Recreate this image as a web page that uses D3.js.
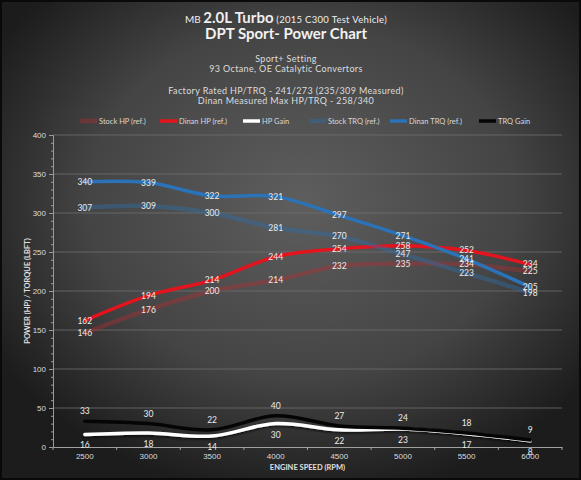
<!DOCTYPE html>
<html>
<head>
<meta charset="utf-8">
<script src="https://cdn.jsdelivr.net/npm/d3@7"></script>
<style>
    body { margin: 0; background: #000; }
    svg { display: block; font-family: Lato, "Open Sans", sans-serif; }
    .tick text { fill: #dcdcdc; font-size: 8px; }
    .dlabel { fill: #ececec; font-size: 8.5px; text-anchor: middle; }
</style>
</head>
<body>
<svg></svg>
<script>
var rpm = ["2500", "3000", "3500", "4000", "4500", "5000", "5500", "6000"]
var stockHP = [146, 176, 200, 214, 232, 235, 234, 225]
var dinanHP = [162, 194, 214, 244, 254, 258, 252, 234]
var hpGain = [16, 18, 14, 30, 22, 23, 17, 8]
var stockTRQ = [307, 309, 300, 281, 270, 247, 223, 198]
var dinanTRQ = [340, 339, 322, 321, 297, 271, 241, 205]
var trqGain = [33, 30, 22, 40, 27, 24, 18, 9]
var yTicks = [0, 50, 100, 150, 200, 250, 300, 350, 400]

var series = [
    { name: "Stock HP (ref.)", values: stockHP, color: "rgba(185,45,50,0.38)", width: 4.5, label: 0 },
    { name: "Dinan HP (ref.)", values: dinanHP, color: "#e2141d", width: 3.5, label: 0 },
    { name: "HP Gain", values: hpGain, color: "#ffffff", width: 3.5, label: 11 },
    { name: "Stock TRQ (ref.)", values: stockTRQ, color: "rgba(45,110,170,0.42)", width: 4.5, label: 0 },
    { name: "Dinan TRQ (ref.)", values: dinanTRQ, color: "#2b73b9", width: 3.5, label: 0 },
    { name: "TRQ Gain", values: trqGain, color: "#050505", width: 3.5, label: -10 }
]

var screen = { width: 581, height: 480 }
var margins = { left: 53, right: 19, top: 135, bottom: 33 }
var graph = {
    width: screen.width - margins.left - margins.right,
    height: screen.height - margins.top - margins.bottom
}

var svg = d3.select("svg")
    .attr("width", screen.width)
    .attr("height", screen.height)

//background
var defs = svg.append("defs")
var grad = defs.append("radialGradient")
    .attr("id", "bg")
    .attr("cx", "52%").attr("cy", "42%").attr("r", "62%")
grad.append("stop").attr("offset", "0%").attr("stop-color", "#5e5e5e")
grad.append("stop").attr("offset", "60%").attr("stop-color", "#444444")
grad.append("stop").attr("offset", "100%").attr("stop-color", "#1c1c1c")

var shadow = defs.append("filter").attr("id", "shadow")
    .attr("x", "-10%").attr("y", "-50%").attr("width", "120%").attr("height", "200%")
shadow.append("feDropShadow")
    .attr("dx", 0).attr("dy", 1.5).attr("stdDeviation", 1.2)
    .attr("flood-color", "#000").attr("flood-opacity", 0.7)

svg.append("rect")
    .attr("x", 1).attr("y", 1)
    .attr("width", screen.width - 2).attr("height", screen.height - 2)
    .attr("fill", "url(#bg)")
    .attr("stroke", "#0a0a0a")
    .attr("stroke-width", 2)

var xScale = d3.scaleBand()
    .domain(rpm)
    .range([0, graph.width])

var yScale = d3.scaleLinear()
    .domain([0, 400])
    .range([graph.height, 0])

var xPos = function (i) {
    return xScale(rpm[i]) + xScale.bandwidth() / 2
}

var target = svg.append("g")
    .attr("transform", "translate(" + margins.left + "," + margins.top + ")")

//gridlines
target.append("g")
    .selectAll("line")
    .data(yTicks.slice(1))
    .enter()
    .append("line")
    .attr("x1", 0)
    .attr("x2", graph.width)
    .attr("y1", function (d) { return yScale(d) })
    .attr("y2", function (d) { return yScale(d) })
    .attr("stroke", "#6e6e6e")
    .attr("stroke-width", 0.8)

//axes
var yAxis = d3.axisLeft(yScale)
    .tickValues(yTicks)
    .tickSize(4)
    .tickPadding(3)
var yMinor = d3.axisLeft(yScale)
    .tickValues(d3.range(0, 401, 10))
    .tickSize(2)
    .tickFormat("")

var yg = target.append("g").call(yAxis)
target.append("g").call(yMinor)
    .select(".domain").remove()
target.selectAll(".tick line").attr("stroke", "#9a9a9a")
yg.select(".domain").attr("stroke", "#9a9a9a")
yg.selectAll("text").attr("font-size", "8px")

var xAxis = d3.axisBottom(xScale).tickSize(0).tickPadding(6)
var xg = target.append("g")
    .attr("transform", "translate(0," + graph.height + ")")
    .call(xAxis)
xg.select(".domain").attr("stroke", "#a0a0a0")
xg.selectAll("text").attr("font-size", "8px")

//small ticks between categories
target.append("g")
    .selectAll("line")
    .data(d3.range(rpm.length + 1))
    .enter()
    .append("line")
    .attr("x1", function (i) { return i * xScale.step() })
    .attr("x2", function (i) { return i * xScale.step() })
    .attr("y1", graph.height)
    .attr("y2", graph.height + 3)
    .attr("stroke", "#a0a0a0")

//lines
var lineGenerator = d3.line()
    .x(function (d, i) { return xPos(i) })
    .y(function (d) { return yScale(d) })
    .curve(d3.curveCardinal.tension(0))

target.append("g")
    .selectAll("path")
    .data(series)
    .enter()
    .append("path")
    .attr("d", function (s) { return lineGenerator(s.values) })
    .attr("fill", "none")
    .attr("stroke", function (s) { return s.color })
    .attr("stroke-width", function (s) { return s.width })
    .attr("stroke-linecap", "round")
    .attr("filter", function (s) { return s.name == "HP Gain" ? "url(#shadow)" : null })

//data labels
series.forEach(function (s) {
    target.append("g")
        .selectAll("text")
        .data(s.values)
        .enter()
        .append("text")
        .classed("dlabel", true)
        .attr("x", function (d, i) { return xPos(i) })
        .attr("y", function (d) { return yScale(d) + s.label })
        .attr("dy", "0.35em")
        .text(function (d) { return d })
})

//legend
var legendX = [80, 160, 243, 309, 390, 479]
var legend = svg.append("g")
    .selectAll("g")
    .data(series)
    .enter()
    .append("g")
    .attr("transform", function (s, i) { return "translate(" + legendX[i] + ",121)" })
legend.append("line")
    .attr("x1", 0).attr("x2", 17)
    .attr("stroke", function (s) { return s.color })
    .attr("stroke-width", function (s) { return s.width })
legend.append("text")
    .attr("x", 19)
    .attr("dy", "0.35em")
    .attr("fill", "#d8d8d8")
    .attr("font-size", "7.5px")
    .text(function (s) { return s.name })

//titles
var cx = 286
var t1 = svg.append("text")
    .attr("x", cx).attr("y", 23)
    .attr("text-anchor", "middle")
    .attr("fill", "#eeeeee")
t1.append("tspan").attr("font-size", "10px").text("MB ")
t1.append("tspan").attr("font-size", "15px").attr("font-weight", "bold").text("2.0L Turbo")
t1.append("tspan").attr("font-size", "9.5px").attr("letter-spacing", "0.3px").text(" (2015 C300 Test Vehicle)")

svg.append("text")
    .attr("x", cx).attr("y", 39)
    .attr("text-anchor", "middle")
    .attr("fill", "#f2f2f2")
    .attr("font-size", "15px")
    .attr("font-weight", "bold")
    .text("DPT Sport- Power Chart")

var subLines = [
    ["Sport+ Setting", 62],
    ["93 Octane, OE Catalytic Convertors", 72],
    ["Factory Rated HP/TRQ - 241/273 (235/309 Measured)", 94],
    ["Dinan Measured Max HP/TRQ -  258/340", 104]
]
svg.append("g")
    .selectAll("text")
    .data(subLines)
    .enter()
    .append("text")
    .attr("x", cx)
    .attr("y", function (d) { return d[1] })
    .attr("text-anchor", "middle")
    .attr("fill", "#dddddd")
    .attr("font-size", "9px")
    .attr("letter-spacing", "0.35px")
    .text(function (d) { return d[0] })

//axis labels
svg.append("text")
    .attr("x", margins.left + graph.width / 2)
    .attr("y", 470)
    .attr("text-anchor", "middle")
    .attr("fill", "#e0e0e0")
    .attr("font-size", "7.5px")
    .attr("font-weight", "bold")
    .text("ENGINE SPEED (RPM)")

svg.append("g")
    .attr("transform", "translate(30," + (margins.top + graph.height * 0.5) + ")")
    .append("text")
    .attr("transform", "rotate(-90)")
    .attr("text-anchor", "middle")
    .attr("fill", "#e0e0e0")
    .attr("font-size", "7.5px")
    .attr("font-weight", "bold")
    .text("POWER (HP) / TORQUE (LBFT)")
</script>
</body>
</html>
